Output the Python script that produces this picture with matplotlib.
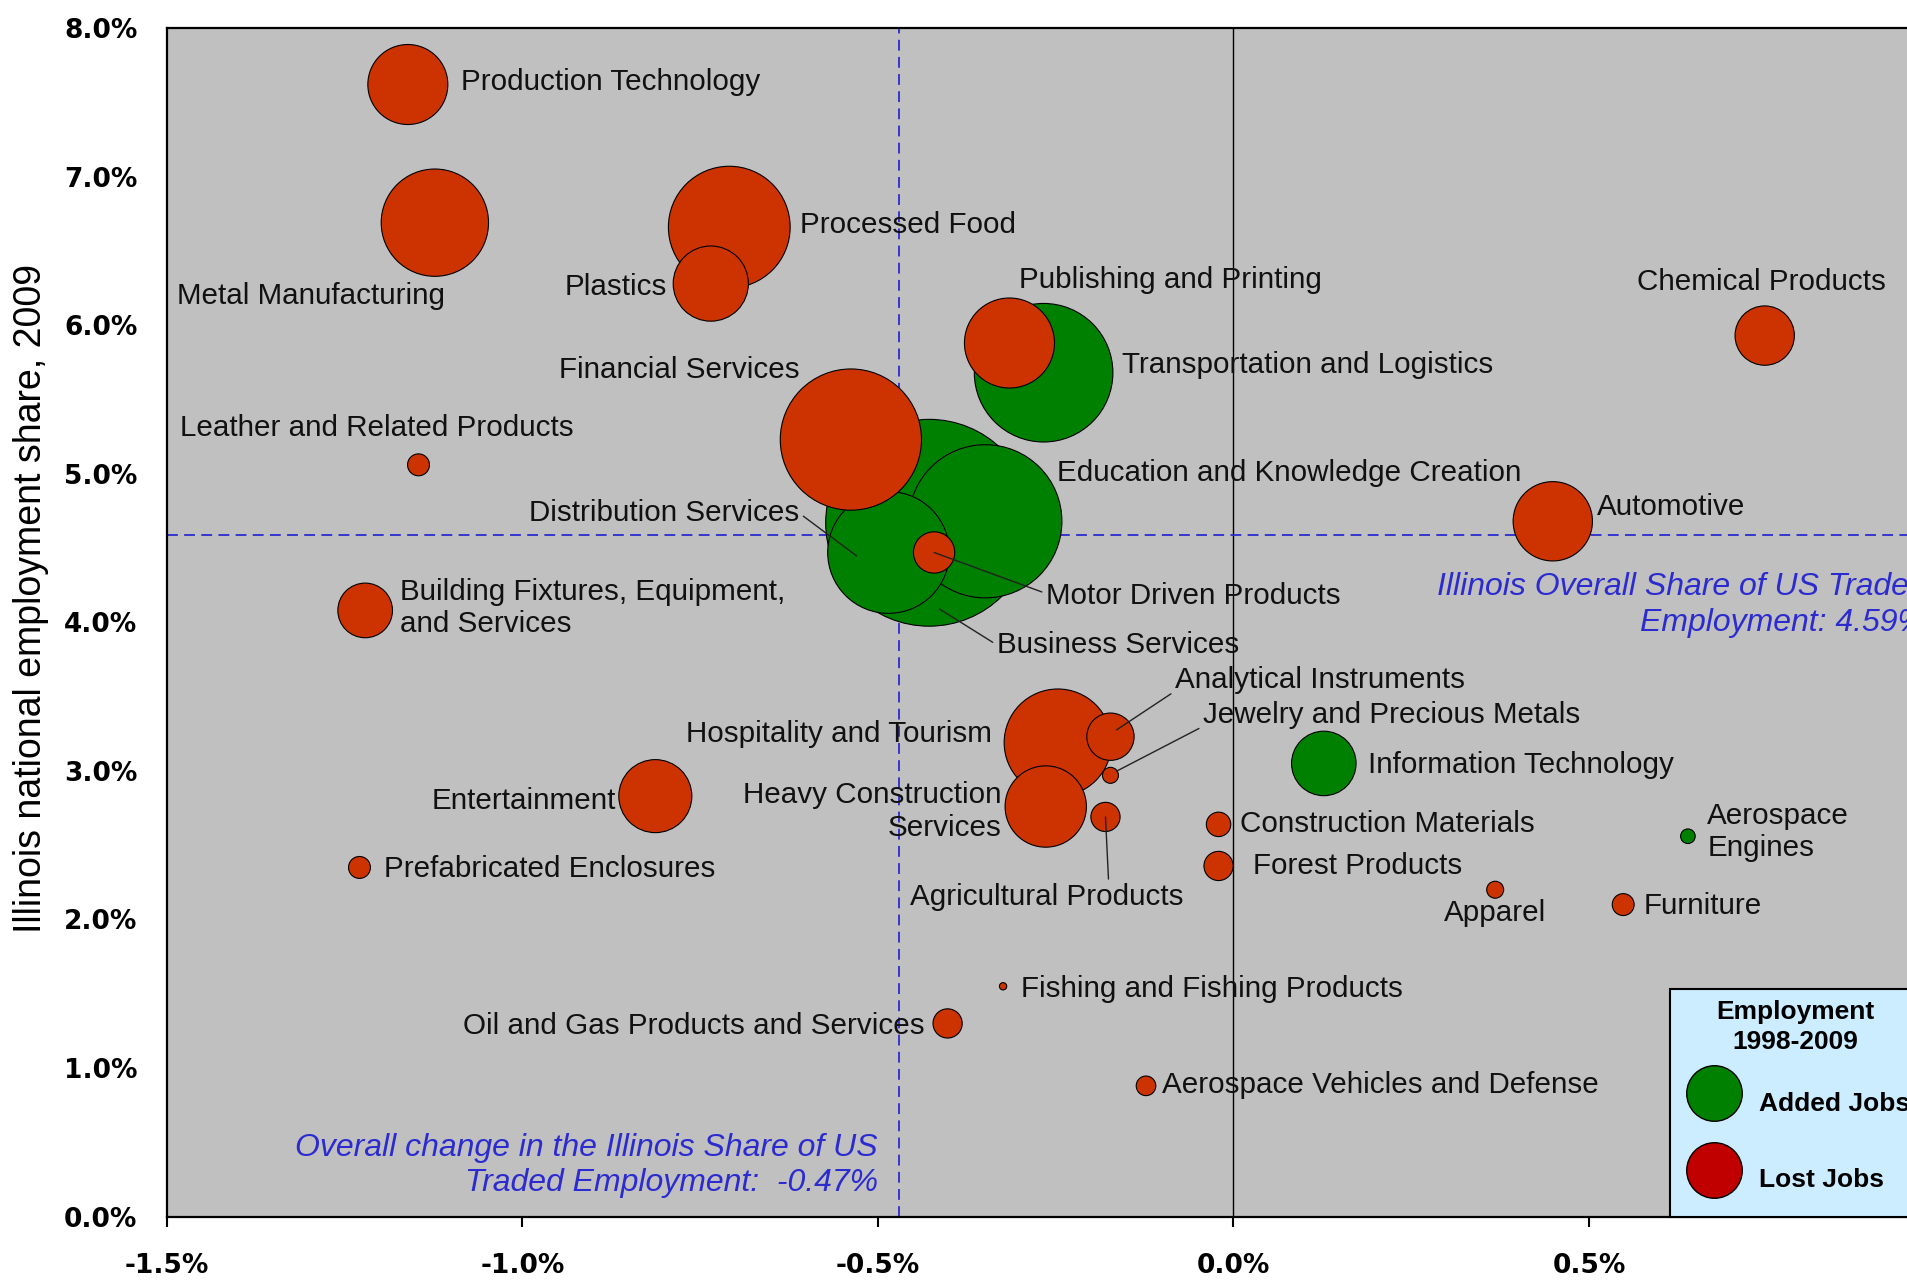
import numpy as np
import matplotlib.pyplot as plt
from matplotlib.lines import Line2D
from matplotlib.ticker import FuncFormatter

# cluster data: change in Illinois share of US employment 1998-2009 (x, %),
# Illinois share of national employment 2009 (y, %), cluster employment (thousands, bubble area)
clusters = [
    "Business Services", "Education and Knowledge Creation", "Distribution Services",
    "Financial Services", "Motor Driven Products", "Transportation and Logistics",
    "Publishing and Printing", "Processed Food", "Plastics", "Metal Manufacturing",
    "Production Technology", "Chemical Products", "Leather and Related Products",
    "Automotive", "Building Fixtures, Equipment,\nand Services", "Hospitality and Tourism",
    "Heavy Construction\nServices", "Analytical Instruments", "Jewelry and Precious Metals",
    "Agricultural Products", "Information Technology", "Construction Materials",
    "Forest Products", "Apparel", "Furniture", "Aerospace\nEngines", "Entertainment",
    "Prefabricated Enclosures", "Fishing and Fishing Products",
    "Oil and Gas Products and Services", "Aerospace Vehicles and Defense",
]
share_change = [
    -0.428, -0.349, -0.485, -0.538, -0.421, -0.267, -0.315, -0.709, -0.735, -1.123,
    -1.161, 0.747, -1.146, 0.449, -1.221, -0.247, -0.264, -0.173, -0.173, -0.180,
    0.127, -0.021, -0.021, 0.368, 0.548, 0.639, -0.813, -1.229, -0.324, -0.402, -0.123,
]
share_2009 = [
    4.67, 4.68, 4.47, 5.23, 4.47, 5.68, 5.88, 6.66, 6.28, 6.69,
    7.62, 5.93, 5.06, 4.68, 4.08, 3.19, 2.76, 3.23, 2.97, 2.69,
    3.05, 2.64, 2.36, 2.20, 2.10, 2.56, 2.83, 2.35, 1.55, 1.30, 0.88,
]
employment = [
    401, 220, 139, 187, 16, 180, 76, 139, 53, 108,
    60, 33, 4.5, 59, 28, 108, 62, 21, 2.4, 8,
    39, 5.6, 8, 2.7, 4.5, 2.0, 50, 4.5, 0.5, 8, 3.6,
]
added_jobs = [
    True, True, True, False, False, True, False, False, False, False,
    False, False, False, False, False, False, False, False, False, False,
    True, False, False, False, False, True, False, False, False, False, False,
]

overall_share = 4.59
overall_change = -0.47

# label placement: offset in points from bubble, horizontal alignment
label_pos = {
    "Education and Knowledge Creation": (51.7, 35.0, "left"),
    "Financial Services": (-36.8, 49.9, "right"),
    "Transportation and Logistics": (56.1, 5.3, "left"),
    "Publishing and Printing": (7.0, 45.6, "left"),
    "Processed Food": (50.8, 1.8, "left"),
    "Plastics": (-31.5, -2.6, "right"),
    "Metal Manufacturing": (-185.7, -52.6, "left"),
    "Production Technology": (38.5, 1.8, "left"),
    "Chemical Products": (-92.0, 38.5, "left"),
    "Leather and Related Products": (-171.7, 26.3, "left"),
    "Automotive": (31.5, 10.5, "left"),
    "Building Fixtures, Equipment,\nand Services": (25.4, 1.8, "left"),
    "Hospitality and Tourism": (-47.3, 6.1, "right"),
    "Heavy Construction\nServices": (-31.5, -3.5, "right"),
    "Information Technology": (31.5, -0.9, "left"),
    "Construction Materials": (15.8, 0.0, "left"),
    "Forest Products": (24.5, 0.0, "left"),
    "Apparel": (0.0, -16.6, "center"),
    "Furniture": (14.9, -0.9, "left"),
    "Aerospace\nEngines": (14.0, 3.1, "left"),
    "Entertainment": (-28.0, -3.5, "right"),
    "Prefabricated Enclosures": (17.5, -0.9, "left"),
    "Fishing and Fishing Products": (13.1, -1.8, "left"),
    "Oil and Gas Products and Services": (-16.6, -1.8, "right"),
    "Aerospace Vehicles and Defense": (11.4, 0.9, "left"),
}
# labels with leader lines: anchor (data), text offset (points), ha, relpos
leader_pos = {
    "Business Services": ((-0.4135, 4.09), (41.2, -25.8), "left", (0, 0.5)),
    "Distribution Services": ((-0.5299, 4.447), (-41.2, 30.7), "right", (1, 0.5)),
    "Motor Driven Products": (None, (80.5, -31.5), "left", (0, 0.6)),
    "Analytical Instruments": ((-0.1644, 3.276), (42.0, 35.9), "left", (0, 0.1)),
    "Jewelry and Precious Metals": ((-0.1644, 2.998), (62.2, 40.3), "left", (0, 0.1)),
    "Agricultural Products": (None, (-42.0, -57.8), "center", (0.725, 1)),
}

RED = "#CC3300"
GREEN = "#008000"
BLUE = "#2B2BD0"
SIZE_SCALE = 55.3

plt.rcParams["font.family"] = ["Liberation Sans", "DejaVu Sans"]

fig = plt.figure(figsize=(19.08, 12.81), dpi=100)
ax = fig.add_axes([0.0874, 0.0503, 0.9318, 0.9278])
ax.set_facecolor("#C0C0C0")

colors = [GREEN if a else RED for a in added_jobs]
ax.scatter(share_change, share_2009, s=np.array(employment) * SIZE_SCALE,
           c=colors, edgecolors="black", linewidths=0.8, zorder=3)

ax.axvline(0, color="black", lw=1.0, zorder=2)
ax.axvline(overall_change, color=BLUE, lw=1.3, dashes=(6, 3.5), zorder=2)
ax.axhline(overall_share, color=BLUE, lw=1.3, dashes=(6, 3.5), zorder=2)

lab_fs = 21.3
for name, x, y in zip(clusters, share_change, share_2009):
    if name in label_pos:
        dx, dy, ha = label_pos[name]
        ax.annotate(name, (x, y), xytext=(dx, dy), textcoords="offset points",
                    ha=ha, va="center", fontsize=lab_fs, color="#111111",
                    multialignment=ha if ha != "center" else "center", zorder=5)
    else:
        anchor, (dx, dy), ha, rel = leader_pos[name]
        xy = (x, y) if anchor is None else anchor
        ax.annotate(name, xy, xytext=(dx, dy), textcoords="offset points",
                    ha=ha, va="center", fontsize=lab_fs, color="#111111", zorder=5,
                    arrowprops=dict(arrowstyle="-", color="#222222", lw=1.0,
                                    shrinkA=1, shrinkB=0, relpos=rel))

ax.text(-0.50, 0.344, "Overall change in the Illinois Share of US\nTraded Employment:  -0.47%",
        ha="right", va="center", fontsize=23, style="italic", color=BLUE,
        linespacing=1.25, zorder=5)
ax.text(0.974, 4.115, "Illinois Overall Share of US Traded\nEmployment: 4.59%",
        ha="right", va="center", fontsize=23, style="italic", color=BLUE,
        linespacing=1.25, zorder=5)

ax.set_xlim(-1.5, 1.0)
ax.set_ylim(0, 8)
ax.set_xticks([-1.5, -1.0, -0.5, 0.0, 0.5])
ax.set_yticks(np.arange(0, 8.5, 1.0))
fmt = FuncFormatter(lambda v, p: f"{v:.1f}%")
ax.xaxis.set_major_formatter(fmt)
ax.yaxis.set_major_formatter(fmt)
for lab in ax.get_xticklabels() + ax.get_yticklabels():
    lab.set_fontfamily("DejaVu Sans")
    lab.set_fontweight("bold")
    lab.set_fontsize(19)
ax.tick_params(axis="x", direction="out", length=7, width=1.5, pad=19)
ax.tick_params(axis="y", length=0, pad=21)
for side in ["left", "bottom", "top"]:
    ax.spines[side].set_linewidth(1.6)
ax.spines["right"].set_visible(False)

ax.set_ylabel("Illinois national employment share, 2009", fontsize=27)
ax.yaxis.set_label_coords(-0.066, 0.52)

handles = [
    Line2D([], [], ls="", marker="o", markersize=40, markerfacecolor=GREEN,
           markeredgecolor="black", markeredgewidth=1.0),
    Line2D([], [], ls="", marker="o", markersize=40, markerfacecolor="#C00000",
           markeredgecolor="black", markeredgewidth=1.0),
]
leg = ax.legend(handles, ["Added Jobs", "Lost Jobs"], title="Employment\n1998-2009",
                loc="upper left", bbox_to_anchor=(0.8453, 0.1914),
                prop=dict(weight="bold", size=19),
                title_fontproperties=dict(weight="bold", size=19),
                fancybox=False, framealpha=1, facecolor="#CCECFF",
                edgecolor="black", borderpad=0.4, handlelength=2.6,
                handleheight=2.8, handletextpad=0.4, labelspacing=0.82,
                borderaxespad=0)
leg.get_title().set_multialignment("center")
leg.get_title().set_linespacing(1.35)
leg.get_frame().set_linewidth(1.5)
leg.set_zorder(6)

fig.savefig("out.png", dpi=100)
